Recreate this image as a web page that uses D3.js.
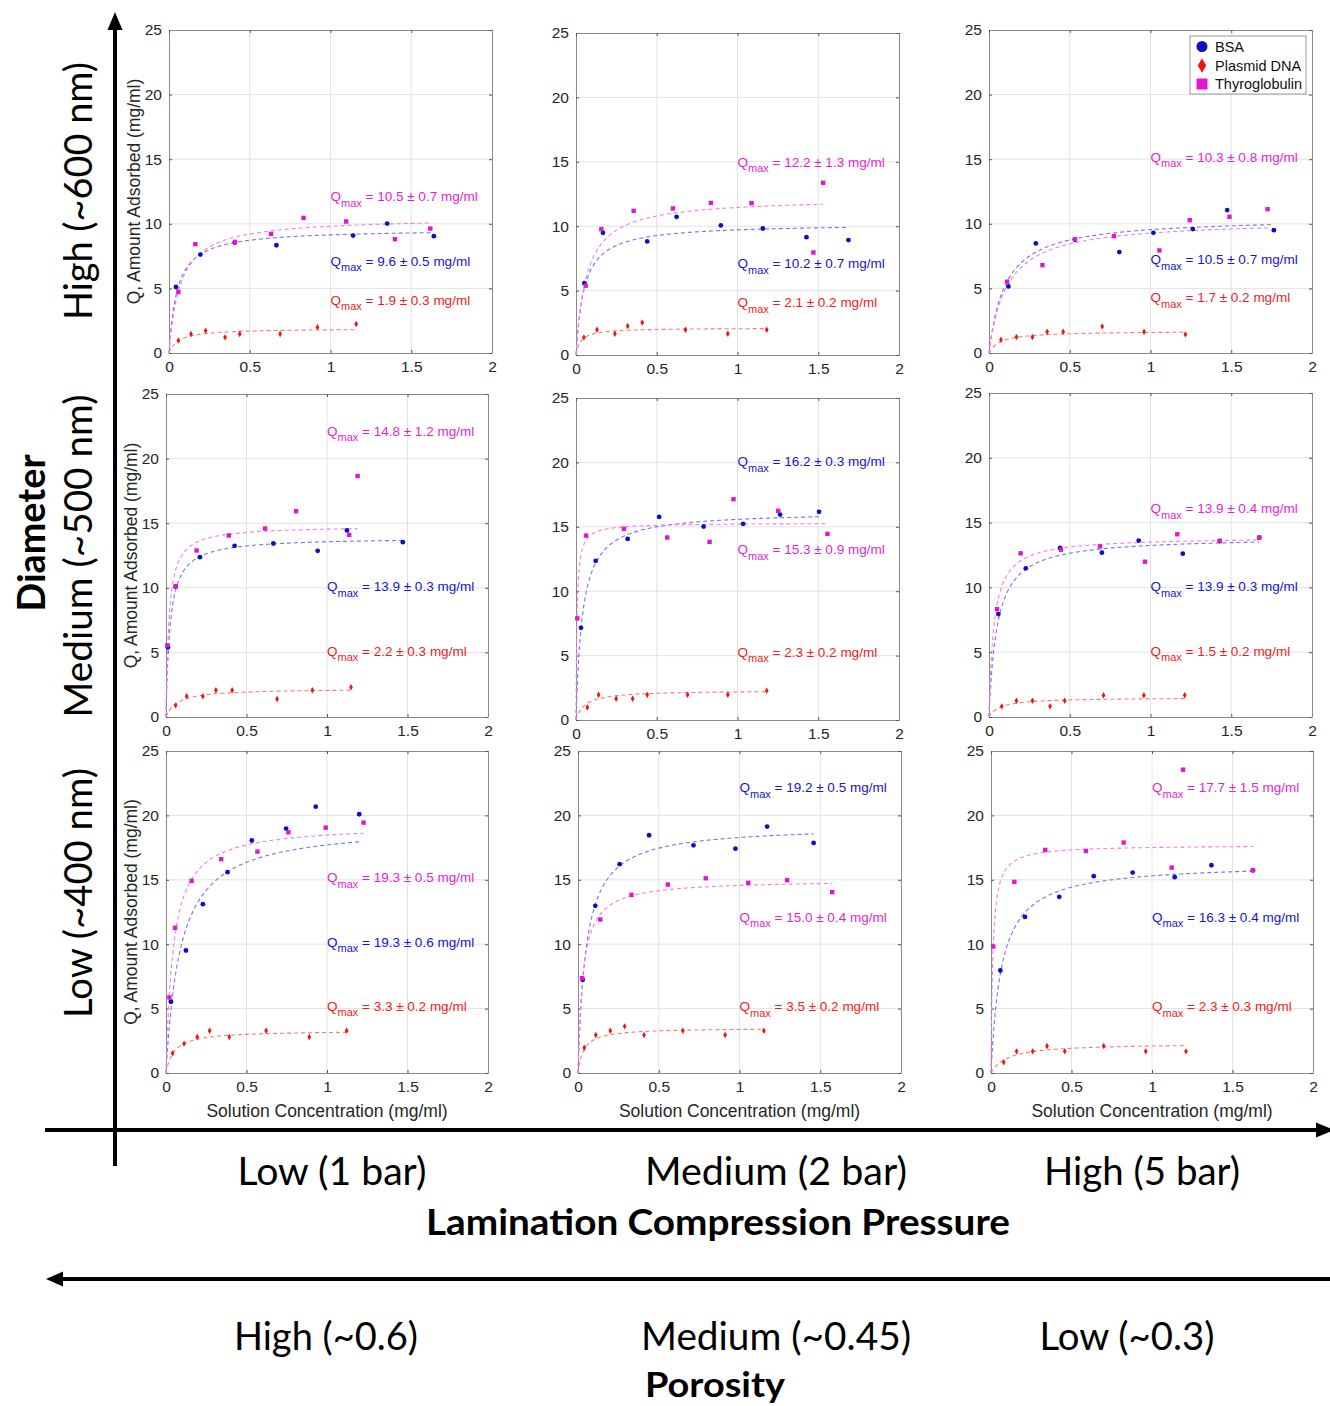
<!DOCTYPE html>
<html><head><meta charset="utf-8">
<script src="https://cdn.jsdelivr.net/npm/d3@7"></script>
<style>body{margin:0;background:#fff}svg{display:block}</style>
</head><body>
<svg id="c" width="1330" height="1406"></svg>
<script>
// ---------------- DATA (panels in row-major order: rows = diameter High/Medium/Low, cols = pressure Low/Medium/High)
const xTicks = [0, 0.5, 1, 1.5, 2];
const yTicks = [0, 5, 10, 15, 20, 25];
const seriesNames = ["BSA", "Plasmid DNA", "Thyroglobulin"];

const bsaC = [
  [0.043,0.194,0.407,0.665,1.14,1.351,1.64],
  [0.052,0.167,0.441,0.623,0.897,1.157,1.427,1.687],
  [0.12,0.29,0.532,0.807,1.018,1.262,1.475,1.764],
  [0.012,0.06,0.211,0.426,0.667,0.942,1.124,1.471],
  [0.031,0.122,0.32,0.515,0.79,1.035,1.264,1.505],
  [0.058,0.228,0.44,0.699,0.927,1.2,1.429,1.673],
  [0.031,0.124,0.229,0.382,0.533,0.746,0.93,1.2],
  [0.029,0.107,0.258,0.44,0.715,0.975,1.171,1.459],
  [0.058,0.211,0.424,0.638,0.88,1.141,1.369,1.627]];
const bsaQ = [
  [5.11,7.62,8.55,8.34,9.09,10.02,9.04],
  [5.58,9.49,8.82,10.73,10.06,9.82,9.15,8.92],
  [5.15,8.48,8.76,7.81,9.30,9.59,11.06,9.51],
  [5.40,10.1,12.37,13.25,13.43,12.86,14.44,13.53],
  [7.16,12.36,14.06,15.77,15.02,15.23,15.95,16.16],
  [7.94,11.47,13.04,12.68,13.61,12.6,13.58,13.84],
  [5.53,9.51,13.11,15.59,18.05,18.98,20.68,20.09],
  [7.24,12.98,16.21,18.46,17.68,17.42,19.13,17.86],
  [7.96,12.12,13.68,15.28,15.56,15.2,16.13,15.74]];

const dnaC = [
  [0.058,0.136,0.227,0.347,0.438,0.688,0.919,1.159],
  [0.049,0.13,0.241,0.32,0.41,0.678,0.94,1.181],
  [0.074,0.17,0.269,0.36,0.459,0.701,0.96,1.216],
  [0.06,0.128,0.229,0.31,0.411,0.69,0.909,1.149],
  [0.07,0.14,0.249,0.351,0.441,0.691,0.94,1.181],
  [0.079,0.17,0.269,0.378,0.469,0.709,0.959,1.212],
  [0.041,0.112,0.194,0.271,0.393,0.622,0.89,1.122],
  [0.039,0.11,0.2,0.289,0.409,0.649,0.911,1.151],
  [0.079,0.159,0.259,0.348,0.458,0.7,0.961,1.211]];
const dnaQ = [
  [0.96,1.47,1.73,1.21,1.47,1.47,1.99,2.25],
  [1.37,1.96,1.65,2.25,2.53,1.96,1.65,1.96],
  [1.03,1.24,1.24,1.65,1.65,2.06,1.65,1.44],
  [0.90,1.60,1.60,2.07,2.07,1.39,2.07,2.30],
  [0.98,1.96,1.65,1.65,1.96,1.96,1.96,2.28],
  [0.82,1.26,1.26,0.82,1.26,1.68,1.68,1.68],
  [1.53,2.28,2.79,3.28,2.79,3.28,2.79,3.28],
  [1.96,2.95,3.28,3.62,2.95,3.28,2.95,3.28],
  [0.83,1.68,1.68,2.09,1.68,2.09,1.68,1.68]];

const thyC = [
  [0.058,0.163,0.409,0.632,0.833,1.097,1.399,1.618],
  [0.06,0.157,0.357,0.6,0.835,1.087,1.47,1.53],
  [0.112,0.331,0.532,0.774,1.055,1.243,1.489,1.725],
  [0.008,0.06,0.19,0.39,0.616,0.808,1.138,1.19],
  [0.008,0.062,0.297,0.565,0.827,0.975,1.252,1.557],
  [0.05,0.196,0.445,0.687,0.966,1.166,1.429,1.673],
  [0.021,0.056,0.159,0.343,0.568,0.76,0.992,1.227],
  [0.025,0.138,0.331,0.556,0.791,1.054,1.295,1.574],
  [0.014,0.145,0.337,0.59,0.824,1.122,1.193,1.627]];
const thyQ = [
  [4.73,8.42,8.6,9.22,10.46,10.18,8.81,9.63],
  [5.38,9.77,11.19,11.38,11.81,11.79,7.96,13.37],
  [5.52,6.8,8.81,9.05,7.94,10.28,10.54,11.13],
  [5.55,10.12,12.89,14.05,14.59,15.93,14.10,18.65],
  [7.89,14.32,14.84,14.17,13.83,17.14,16.24,14.45],
  [8.32,12.63,12.91,13.17,11.98,14.1,13.58,13.84],
  [5.87,11.27,14.92,16.6,17.19,18.69,19.05,19.44],
  [7.37,11.92,13.83,14.63,15.12,14.76,14.97,14.04],
  [9.82,14.84,17.32,17.24,17.89,15.95,23.55,15.74]];

// Langmuir fit parameters (Qmax with error, and dissociation constant K)
const bsaQmax = [9.6,10.2,10.5,13.9,16.2,13.9,19.3,19.2,16.3];
const bsaErr  = [0.5,0.7,0.7,0.3,0.3,0.3,0.6,0.5,0.4];
const bsaK    = [0.05,0.05,0.1,0.025,0.04,0.05,0.09,0.05,0.065];
const dnaQmax = [1.9,2.1,1.7,2.2,2.3,1.5,3.3,3.5,2.3];
const dnaErr  = [0.3,0.2,0.2,0.3,0.2,0.2,0.2,0.2,0.3];
const dnaK    = [0.06,0.03,0.07,0.07,0.055,0.07,0.05,0.035,0.1];
const thyQmax = [10.5,12.2,10.3,14.8,15.3,13.9,19.3,15.0,17.7];
const thyErr  = [0.7,1.3,0.8,1.2,0.9,0.4,0.5,0.4,1.5];
const thyK    = [0.07,0.065,0.11,0.018,0.006,0.03,0.045,0.03,0.011];

const diameterLabels = ["High (~600 nm)", "Medium (~500 nm)", "Low (~400 nm)"];
const pressureLabels = ["Low (1 bar)", "Medium (2 bar)", "High (5 bar)"];
const porosityLabels = ["High (~0.6)", "Medium (~0.45)", "Low (~0.3)"];

// ---------------- LAYOUT (not data)
const panelBox = [ // left, top, right, bottom
  [169,30,492,353],[576,33,899,355],[989,30,1312,353],
  [166,394,488,717],[576,398,899,720],[989,393,1312,717],
  [166,751,488,1073],[578,751,901,1073],[991,751,1313,1073]];
// annotation centre y (data units) for [thy, bsa, dna]
const annY = [
  [12.14,7.13,4.13],[15.0,7.11,4.08],[15.2,7.27,4.3],
  [22.16,10.12,5.11],[13.24,20.09,5.3],[16.1,10.1,5.1],
  [15.18,10.2,5.22],[12.15,22.18,5.17],[22.18,12.15,5.17]];

const COL = {bsa:"#0a10c6", dna:"#f01414", thy:"#e414d0"};
const FIT = {bsa:"#7474ee", dna:"#f57a7a", thy:"#f27ee6"};
const TXT = {bsa:"#1414d2", dna:"#f01c1c", thy:"#e61ed2"};

const svg = d3.select("#c");
const sans = "'Liberation Sans', Arial, Helvetica, sans-serif";
const narrow = "Lato, 'Liberation Sans Narrow', 'Open Sans', sans-serif";

panelBox.forEach((b, i) => {
  const [L,T,R,B] = b;
  const x = d3.scaleLinear().domain([0,2]).range([L,R]);
  const y = d3.scaleLinear().domain([0,25]).range([B,T]);
  const g = svg.append("g");
  g.append("rect").attr("x",L).attr("y",T).attr("width",R-L).attr("height",B-T).attr("fill","#fff");
  // grid
  g.selectAll(".gx").data(xTicks.slice(1,-1)).join("line")
    .attr("x1",d=>x(d)).attr("x2",d=>x(d)).attr("y1",T).attr("y2",B)
    .attr("stroke","#e3e3e3").attr("stroke-width",1);
  g.selectAll(".gy").data(yTicks.slice(1,-1)).join("line")
    .attr("y1",d=>y(d)).attr("y2",d=>y(d)).attr("x1",L).attr("x2",R)
    .attr("stroke","#e3e3e3").attr("stroke-width",1);
  // axes
  const ax = d3.axisBottom(x).tickValues(xTicks).tickFormat(d3.format("")).tickSizeInner(-3).tickSizeOuter(0).tickPadding(8);
  const ay = d3.axisLeft(y).tickValues(yTicks).tickFormat(d3.format("")).tickSizeInner(-3).tickSizeOuter(0).tickPadding(7);
  const gx = g.append("g").attr("transform",`translate(0,${B})`).call(ax);
  const gy = g.append("g").attr("transform",`translate(${L},0)`).call(ay);
  const gx2 = g.append("g").attr("transform",`translate(0,${T})`).call(d3.axisTop(x).tickValues(xTicks).tickSizeInner(-3).tickSizeOuter(0).tickFormat(""));
  const gy2 = g.append("g").attr("transform",`translate(${R},0)`).call(d3.axisRight(y).tickValues(yTicks).tickSizeInner(-3).tickSizeOuter(0).tickFormat(""));
  [gx,gy,gx2,gy2].forEach(a=>{
    a.select(".domain").attr("stroke","#8a8a8a").attr("stroke-width",1);
    a.selectAll(".tick line").attr("stroke","#555");
    a.selectAll("text").attr("font-family",sans).attr("font-size",15.5).attr("fill","#262626");
  });
  gx.selectAll("text").attr("dy","0.71em");

  // fits
  const fits = [
    {c:bsaC[i], q:bsaQmax[i], k:bsaK[i], col:FIT.bsa},
    {c:dnaC[i], q:dnaQmax[i], k:dnaK[i], col:FIT.dna},
    {c:thyC[i], q:thyQmax[i], k:thyK[i], col:FIT.thy}];
  const line = d3.line().x(d=>x(d[0])).y(d=>y(d[1]));
  fits.forEach(f=>{
    const xm = d3.max(f.c);
    const pts = d3.range(0,301).map(j=>{const c = xm*Math.pow(j/300,2); return [c, f.q*c/(f.k+c)];});
    g.append("path").attr("d",line(pts)).attr("fill","none").attr("stroke",f.col)
      .attr("stroke-width",1.1).attr("stroke-dasharray","4,3");
  });

  // markers
  g.selectAll(".b").data(d3.zip(bsaC[i],bsaQ[i])).join("circle")
    .attr("cx",d=>x(d[0])).attr("cy",d=>y(d[1])).attr("r",2.4).attr("fill",COL.bsa);
  const dia = d3.symbol().type(d3.symbolDiamond).size(12);
  g.selectAll(".d").data(d3.zip(dnaC[i],dnaQ[i])).join("path")
    .attr("transform",d=>`translate(${x(d[0])},${y(d[1])})`).attr("d",dia).attr("fill",COL.dna);
  g.selectAll(".t").data(d3.zip(thyC[i],thyQ[i])).join("rect")
    .attr("x",d=>x(d[0])-2.2).attr("y",d=>y(d[1])-2.2).attr("width",4.4).attr("height",4.4).attr("fill",COL.thy);

  // annotations
  const ann = [
    {v:thyQmax[i], e:thyErr[i], col:TXT.thy, yy:annY[i][0]},
    {v:bsaQmax[i], e:bsaErr[i], col:TXT.bsa, yy:annY[i][1]},
    {v:dnaQmax[i], e:dnaErr[i], col:TXT.dna, yy:annY[i][2]}];
  ann.forEach(a=>{
    const t = g.append("text").attr("x",x(1.0)).attr("y",y(a.yy)+5)
      .attr("font-family",sans).attr("font-size",13.5).attr("fill",a.col);
    t.append("tspan").text("Q");
    t.append("tspan").attr("font-size",11).attr("dy",5.5).text("max");
    t.append("tspan").attr("dy",-5.5).text(` = ${a.v.toFixed(1)} \u00B1 ${a.e.toFixed(1)} mg/ml`);
  });

  // axis labels
  if (i % 3 === 0) {
    g.append("text").attr("transform",`translate(${L-29},${(T+B)/2}) rotate(-90)`)
      .attr("text-anchor","middle").attr("font-family",sans).attr("font-size",17.5).attr("fill","#262626")
      .text("Q, Amount Adsorbed (mg/ml)");
  }
  if (i >= 6) {
    g.append("text").attr("x",(L+R)/2).attr("y",B+44)
      .attr("text-anchor","middle").attr("font-family",sans).attr("font-size",17.5).attr("fill","#262626")
      .text("Solution Concentration (mg/ml)");
  }
});

// legend in panel 3
(function(){
  const lg = svg.append("g");
  lg.append("rect").attr("x",1190).attr("y",36).attr("width",116).attr("height",58)
    .attr("fill","#fff").attr("stroke","#9a9a9a").attr("stroke-width",1);
  const rows = [46.5,65.5,84];
  lg.append("circle").attr("cx",1202).attr("cy",rows[0]).attr("r",5.5).attr("fill",COL.bsa);
  lg.append("path").attr("transform",`translate(1202,${rows[1]})`)
    .attr("d",d3.symbol().type(d3.symbolDiamond).size(62)).attr("fill",COL.dna);
  lg.append("rect").attr("x",1196.5).attr("y",rows[2]-5.5).attr("width",11).attr("height",11).attr("fill",COL.thy);
  seriesNames.forEach((s,k)=>{
    lg.append("text").attr("x",1215).attr("y",rows[k]+5).attr("font-family",sans)
      .attr("font-size",14.5).attr("fill","#111").text(s);
  });
})();

// ---------------- big arrows & category labels
function arrowHead(tipX, tipY, dir, len, half){
  let p;
  if (dir==='up') p = [[tipX,tipY],[tipX-half,tipY+len],[tipX+half,tipY+len]];
  else if (dir==='right') p = [[tipX,tipY],[tipX-len,tipY-half],[tipX-len,tipY+half]];
  else p = [[tipX,tipY],[tipX+len,tipY-half],[tipX+len,tipY+half]];
  svg.append("path").attr("d",d3.line()(p)+"Z").attr("fill","#000");
}
svg.append("line").attr("x1",115).attr("x2",115).attr("y1",1166).attr("y2",26).attr("stroke","#000").attr("stroke-width",4);
arrowHead(115,12,'up',18,7.5);
svg.append("line").attr("x1",45).attr("x2",1320).attr("y1",1130).attr("y2",1130).attr("stroke","#000").attr("stroke-width",4);
arrowHead(1334,1130,'right',18,7.5);
svg.append("line").attr("x1",60).attr("x2",1330).attr("y1",1279).attr("y2",1279).attr("stroke","#000").attr("stroke-width",4);
arrowHead(46,1279,'left',17,7.5);

const rowCenters = [191,556,893], rowLens = [258,323,250];
diameterLabels.forEach((s,k)=>{
  svg.append("text").attr("transform",`translate(92,${rowCenters[k]}) rotate(-90)`)
    .attr("text-anchor","middle").attr("font-family",narrow).attr("font-size",38)
    .attr("textLength",rowLens[k]).attr("lengthAdjust","spacingAndGlyphs").text(s);
});
svg.append("text").attr("transform",`translate(45,533) rotate(-90)`)
  .attr("text-anchor","middle").attr("font-family",narrow).attr("font-weight","bold").attr("font-size",38)
  .attr("textLength",157).attr("lengthAdjust","spacingAndGlyphs").text("Diameter");

const colCenters = [332,776,1142], colLens=[189,262,196];
pressureLabels.forEach((s,k)=>{
  svg.append("text").attr("x",colCenters[k]).attr("y",1185).attr("text-anchor","middle")
    .attr("font-family",narrow).attr("font-size",38)
    .attr("textLength",colLens[k]).attr("lengthAdjust","spacingAndGlyphs").text(s);
});
svg.append("text").attr("x",718).attr("y",1235).attr("text-anchor","middle")
  .attr("font-family",narrow).attr("font-weight","bold").attr("font-size",36)
  .attr("textLength",584).attr("lengthAdjust","spacingAndGlyphs").text("Lamination Compression Pressure");

const poroCenters = [326,776,1127], poroLens=[184,270,175];
porosityLabels.forEach((s,k)=>{
  svg.append("text").attr("x",poroCenters[k]).attr("y",1350).attr("text-anchor","middle")
    .attr("font-family",narrow).attr("font-size",38)
    .attr("textLength",poroLens[k]).attr("lengthAdjust","spacingAndGlyphs").text(s);
});
svg.append("text").attr("x",715).attr("y",1397).attr("text-anchor","middle")
  .attr("font-family",narrow).attr("font-weight","bold").attr("font-size",34)
  .attr("textLength",140).attr("lengthAdjust","spacingAndGlyphs").text("Porosity");
</script>
</body></html>
